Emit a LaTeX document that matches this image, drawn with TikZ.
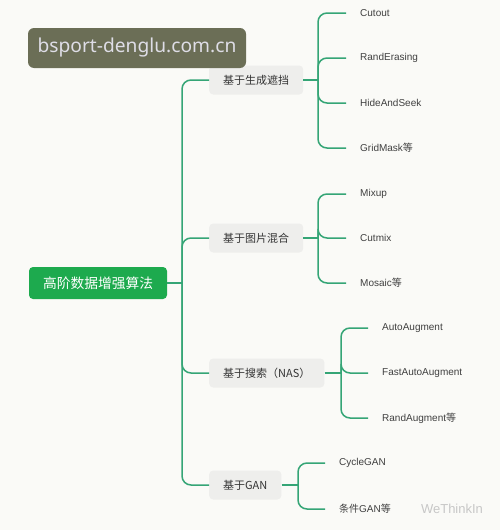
\documentclass[tikz,border=0pt]{standalone}
\usepackage{fontspec}
\setmainfont{Liberation Sans}
\newfontfamily\cjk{Noto Sans CJK SC}
\newfontfamily\markfont{Noto Sans}
\usetikzlibrary{positioning}
\definecolor{linegreen}{HTML}{35A576}
\definecolor{rootgreen}{HTML}{1DAA4E}
\definecolor{boxgray}{HTML}{EEEEEC}
\definecolor{textdark}{HTML}{333333}
\definecolor{textgray}{HTML}{404040}
\definecolor{paper}{HTML}{FAFAF7}
\definecolor{markbg}{HTML}{6B6E56}
\definecolor{markfg}{HTML}{DEDDE6}

\begin{document}
\begin{tikzpicture}[x=1pt,y=-1pt,
  link/.style={draw=linegreen,line width=1.5pt,rounded corners=9pt},
  rootbox/.style={fill=rootgreen,text=white,rounded corners=4pt,minimum height=32pt,inner xsep=14pt,font=\cjk\fontsize{13.75}{14}\selectfont},
  branchbox/.style={fill=boxgray,text=textdark,rounded corners=4pt,minimum height=29pt,inner xsep=14pt,anchor=west,font=\cjk\fontsize{11}{11}\selectfont},
  leaf/.style={anchor=west,inner xsep=14pt,text=textgray,font=\fontsize{10}{10}\selectfont}]
\fill[paper] (0,0) rectangle (500,530);
\useasboundingbox (0,0) rectangle (500,530);

% root and the four groups
\node[rootbox] (root) at (98,283) {高阶数据增强算法};
\node[branchbox] (gen) at (209,80) {基于生成遮挡};
\node[branchbox] (mix) at (209,238) {基于图片混合};
\node[branchbox] (nas) at (209,373) {基于搜索（NAS）};
\node[branchbox] (gan) at (209,485) {基于GAN};

\coordinate (hub) at (182,283);
\draw[link] (root) -- (hub);
\foreach \b in {gen,mix,nas,gan} \draw[link] (hub) |- (\b.west);

% occlusion
\node[leaf] (cutout) at (346,13) {Cutout};
\node[leaf] (erase) at (346,58) {RandErasing};
\node[leaf] (hide) at (346,103) {HideAndSeek};
\node[leaf] (grid) at (346,148) {GridMask{\cjk 等}};
\coordinate (genhub) at (318,80);
\draw[link] (gen) -- (genhub);
\foreach \c in {cutout,erase,hide,grid} \draw[link] (genhub) |- (\c.west);

% mixing
\node[leaf] (mixup) at (346,194) {Mixup};
\node[leaf] (cutmix) at (346,238) {Cutmix};
\node[leaf] (mosaic) at (346,283) {Mosaic{\cjk 等}};
\coordinate (mixhub) at (318,238);
\draw[link] (mix) -- (mixhub);
\foreach \c in {mixup,cutmix,mosaic} \draw[link] (mixhub) |- (\c.west);

% search
\node[leaf] (auto) at (368,328) {AutoAugment};
\node[leaf] (fast) at (368,373) {FastAutoAugment};
\node[leaf] (randaug) at (368,418) {RandAugment{\cjk 等}};
\coordinate (nashub) at (341,373);
\draw[link] (nas) -- (nashub);
\foreach \c in {auto,fast,randaug} \draw[link] (nashub) |- (\c.west);

% GAN
\node[leaf] (cycle) at (325,463) {CycleGAN};
\node[leaf] (cond) at (325,509) {{\cjk 条件}GAN{\cjk 等}};
\coordinate (ganhub) at (298,485);
\draw[link] (gan) -- (ganhub);
\foreach \c in {cycle,cond} \draw[link] (ganhub) |- (\c.west);

% overlays
\node[fill=markbg,text=markfg,rounded corners=6pt,minimum width=218pt,minimum height=40pt,font=\markfont\fontsize{19.2}{19}\selectfont] (site) at (137,48) {bsport-denglu.com.cn};
\node[text=black!22,font=\fontsize{13}{13}\selectfont] (brand) at (452,509) {WeThinkIn};
\end{tikzpicture}
\end{document}
